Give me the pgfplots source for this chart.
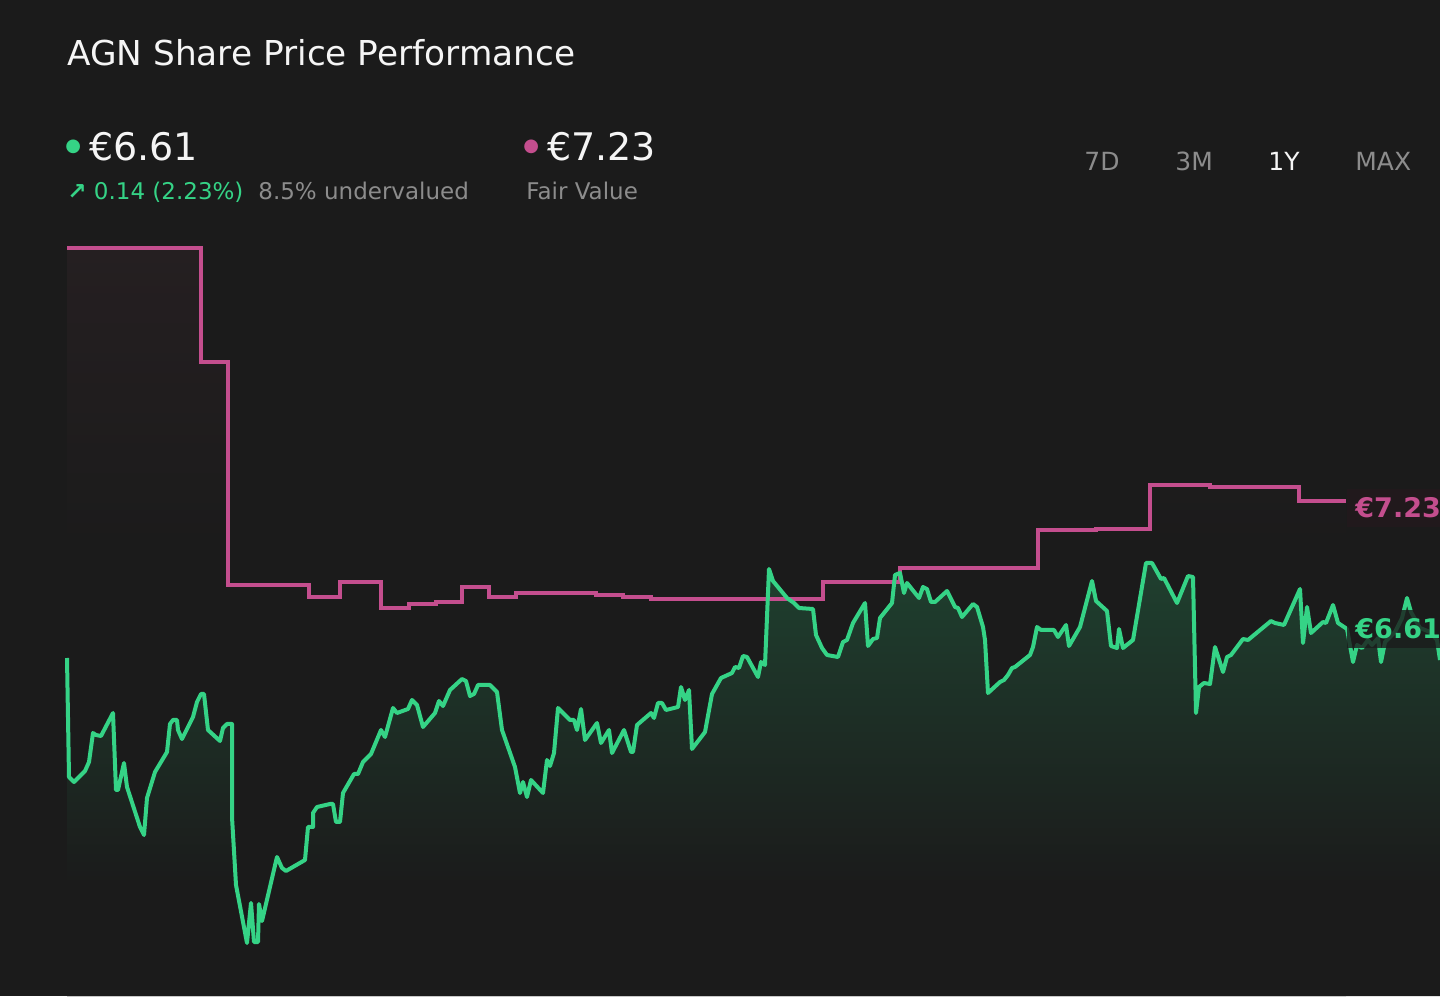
\documentclass[border=0pt]{standalone}
\usepackage{pgfplots}
\pgfplotsset{compat=1.18}
\usepackage{pgfplotstable}
\usepackage{fontspec}
\setmainfont{DejaVu Sans}
\definecolor{bg}{RGB}{27,27,27}
\definecolor{gline}{RGB}{53,211,134}
\definecolor{pline}{RGB}{196,78,142}
\definecolor{gfill}{RGB}{31,64,47}
\definecolor{pfill}{RGB}{37,31,33}
\definecolor{gtxt}{RGB}{140,140,140}
\definecolor{wtxt}{RGB}{245,245,245}
\definecolor{pbox}{RGB}{34,25,29}
\pgfdeclareverticalshading{gshade}{100bp}{color(0bp)=(bg); color(38bp)=(bg); color(75bp)=(gfill); color(100bp)=(gfill)}
\pgfdeclareverticalshading{pshade}{100bp}{color(0bp)=(bg); color(55bp)=(bg); color(75bp)=(pfill); color(100bp)=(pfill)}

\pgfplotstableread{
x py
67 658
69 777
74 782
85 771
89 762
93 733
96 735
101 736
113 713
116 790
118 790
124 763
127 787
140 827
144 835
147 798
155 772
167 752
170 724
173 720
177 720
178 730
182 739
193 717
197 702
201 694
204 694
208 730
220 741
223 728
227 724
232 724
232 817
236 885
247 943
251 903
254 942
258 942
259 904
262 921
277 857
282 868
286 871
305 860
308 827
313 827
313 813
317 807
330 804
333 804
336 822
340 822
343 793
354 774
358 774
363 762
371 754
381 730
385 737
393 708
397 713
408 709
412 700
417 705
423 727
435 713
439 701
443 706
450 690
462 679
466 681
470 696
474 694
478 685
490 685
497 692
502 730
515 767
520 793
523 782
527 797
531 780
543 793
547 760
550 766
554 753
558 708
570 720
574 720
577 730
581 709
585 740
597 723
601 743
609 730
612 753
624 730
631 752
633 752
637 725
651 713
654 718
658 703
662 703
666 710
678 707
681 687
685 700
689 690
692 749
705 732
712 694
721 678
732 673
735 667
739 668
743 656
747 657
758 677
761 662
765 665
769 569
773 581
787 598
794 603
799 608
813 609
816 635
822 648
827 655
838 657
843 642
847 640
853 623
865 603
868 646
873 639
877 638
880 618
892 603
895 575
900 573
902 583
904 593
907 583
919 598
923 587
927 589
931 602
935 602
947 591
955 607
958 608
962 617
973 604
977 607
983 627
985 640
988 693
1000 682
1004 680
1008 675
1012 668
1015 667
1030 655
1033 647
1037 627
1041 630
1054 630
1058 637
1066 625
1069 646
1080 627
1092 581
1096 601
1107 611
1111 646
1117 648
1119 629
1123 648
1133 640
1146 563
1152 563
1161 579
1164 578
1177 603
1188 576
1193 577
1196 713
1199 687
1204 683
1210 684
1215 647
1223 672
1227 657
1231 655
1243 639
1248 640
1271 621
1275 623
1284 625
1300 589
1303 643
1307 607
1311 633
1323 622
1326 623
1333 605
1338 623
1347 629
1353 662
1357 645
1362 648
1368 640
1372 645
1378 638
1381 662
1385 642
1395 632
1402 618
1407 598
1411 612
1420 628
1430 632
1437 640
1440 660
}\pricetab

\pgfplotstableread{
x py
67 248
201 362
228 585
309 597
340 582
381 608
409 604
436 602
462 587
489 597
516 593
596 595
623 597
651 599
823 582
900 568
1038 530
1096 529
1150 485
1210 487
1299 501
1346 501
}\fairtab

\begin{document}
\begin{tikzpicture}
\begin{axis}[
  name=ax,
  scale only axis,
  width=720pt, height=498pt,
  xmin=0, xmax=1440, ymin=0, ymax=996,
  axis lines=none,
  axis background/.style={fill=bg},
  clip=true,
]
% fair value faint fill
\addplot[draw=none, const plot, shading=pshade]
  table[x=x, y expr=996-\thisrow{py}] {\fairtab} \closedcycle;
% price fill
\addplot[draw=none, shading=gshade]
  table[x=x, y expr=996-\thisrow{py}] {\pricetab} \closedcycle;
% fair value line
\addplot[pline, line width=2pt, const plot, line join=miter]
  table[x=x, y expr=996-\thisrow{py}] {\fairtab};
% price line
\addplot[gline, line width=2pt, line join=round]
  table[x=x, y expr=996-\thisrow{py}] {\pricetab};

% end labels
\node[anchor=west, fill=pbox, fill opacity=0.9, text opacity=1, inner xsep=4pt, inner ysep=4.5pt,
      text=pline, font=\bfseries\fontsize{13.5}{14}\selectfont]
  at (axis cs:1347,488) {€7.23};
\node[anchor=west, fill=bg, fill opacity=0.8, text opacity=1, inner xsep=4pt, inner ysep=4.5pt,
      text=gline, font=\bfseries\fontsize{13.5}{14}\selectfont]
  at (axis cs:1347,367) {€6.61};
\end{axis}

% header texts (pixel coordinates, origin top-left)
\begin{scope}[x=0.5pt,y=-0.5pt,yshift=498pt]
\node[anchor=base west, inner sep=0, text=wtxt, font=\fontsize{17.15}{19}\selectfont] at (67,66) {AGN Share Price Performance};
\node[anchor=base west, inner sep=0, text=gline, font=\fontsize{9}{10}\selectfont] at (65,152) {●};
\node[anchor=base west, inner sep=0, text=wtxt, font=\fontsize{19}{21}\selectfont] at (89,161) {€6.61};
\node[anchor=base west, inner sep=0, text=gline, font=\fontsize{11.5}{13}\selectfont] at (67,200) {\textbf{↗} 0.14 (2.23\%)};
\node[anchor=base west, inner sep=0, text=gtxt, font=\fontsize{11.5}{13}\selectfont] at (258,200) {8.5\% undervalued};
\node[anchor=base west, inner sep=0, text=pline, font=\fontsize{9}{10}\selectfont] at (523,152) {●};
\node[anchor=base west, inner sep=0, text=wtxt, font=\fontsize{19}{21}\selectfont] at (547,161) {€7.23};
\node[anchor=base west, inner sep=0, text=gtxt, font=\fontsize{11.5}{13}\selectfont] at (526,200) {Fair Value};
\node[anchor=base west, inner sep=0, text=gtxt, font=\fontsize{12.5}{14}\selectfont] at (1084,171) {7D};
\node[anchor=base west, inner sep=0, text=gtxt, font=\fontsize{12.5}{14}\selectfont] at (1175,171) {3M};
\node[anchor=base west, inner sep=0, text=wtxt, font=\fontsize{12.5}{14}\selectfont] at (1268,171) {1Y};
\node[anchor=base west, inner sep=0, text=gtxt, font=\fontsize{12.5}{14}\selectfont] at (1355,171) {MAX};
\end{scope}
\pgfresetboundingbox
\useasboundingbox (ax.south west) rectangle (ax.north east);
\end{tikzpicture}
\end{document}
